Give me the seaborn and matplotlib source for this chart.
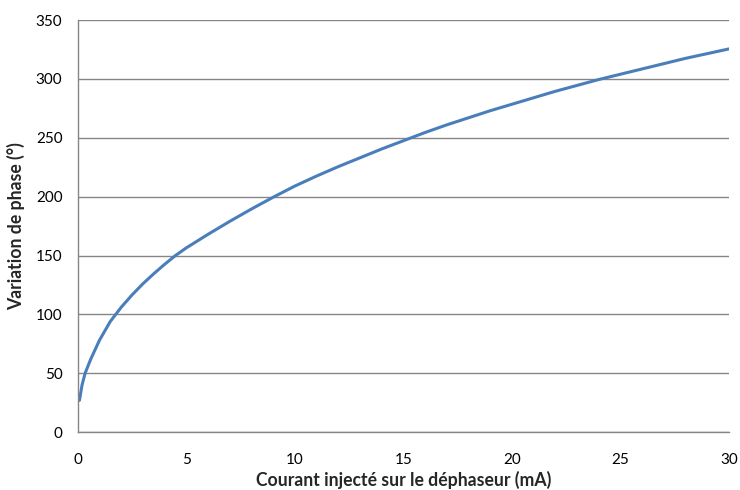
import pandas as pd
import matplotlib
matplotlib.use("Agg")
import matplotlib.pyplot as plt
import seaborn as sns

# courant (mA) et variation de phase (deg)
courant = [0.08, 0.2, 0.34, 0.6, 1, 1.5, 2, 2.5, 3, 3.5, 4, 4.5, 5, 6, 7, 8, 9, 10,
           11, 12, 13, 14, 15, 16, 17, 18, 19, 20, 21, 22, 23, 24, 25, 26, 27, 28, 29, 30]
phase = [27, 40, 50, 62, 78, 94, 106, 116.5, 126, 134.5, 142.5, 150, 156.5, 168, 179, 189.5, 199.5, 209,
         217.5, 225.5, 233, 240.5, 247.5, 254.5, 261, 267, 273, 278.5, 284, 289.5, 294.5, 299.5,
         304, 308.5, 313, 317.5, 321.5, 325.5]

x_ticks = [0, 5, 10, 15, 20, 25, 30]
y_ticks = [0, 50, 100, 150, 200, 250, 300, 350]

def main():
    sns.set_style("white")
    plt.rcParams['font.family'] = ['Lato', 'DejaVu Sans']

    df = pd.DataFrame({'courant': courant, 'phase': phase})

    fig = plt.figure(figsize=(7.4, 4.9), dpi=100)
    ax = fig.add_axes([0.105, 0.118, 0.88, 0.841])

    sns.lineplot(x='courant', y='phase', data=df, color='#4A7EBB', linewidth=2.2, ax=ax)

    ax.set_xlim(0, 30)
    ax.set_ylim(0, 350)
    ax.set_xticks(x_ticks)
    ax.set_yticks(y_ticks)
    ax.tick_params(axis='both', labelsize=11, colors='#868686', labelcolor='black',
                   direction='out', length=5, width=1)
    ax.tick_params(axis='x', pad=10)
    ax.tick_params(axis='y', pad=6)
    ax.grid(True, axis='y', color='#868686', linewidth=1)
    ax.set_axisbelow(True)
    for side in ['top', 'right']:
        ax.spines[side].set_visible(False)
    for side in ['left', 'bottom']:
        ax.spines[side].set_color('#868686')
        ax.spines[side].set_linewidth(1)

    ax.set_xlabel('Courant injecté sur le déphaseur (mA)', fontsize=12.7, fontweight='bold', labelpad=3)
    ax.set_ylabel('Variation de phase (°)', fontsize=12.7, fontweight='bold', labelpad=8)

    fig.savefig('out.png', dpi=100)

if __name__ == "__main__":
    main()
